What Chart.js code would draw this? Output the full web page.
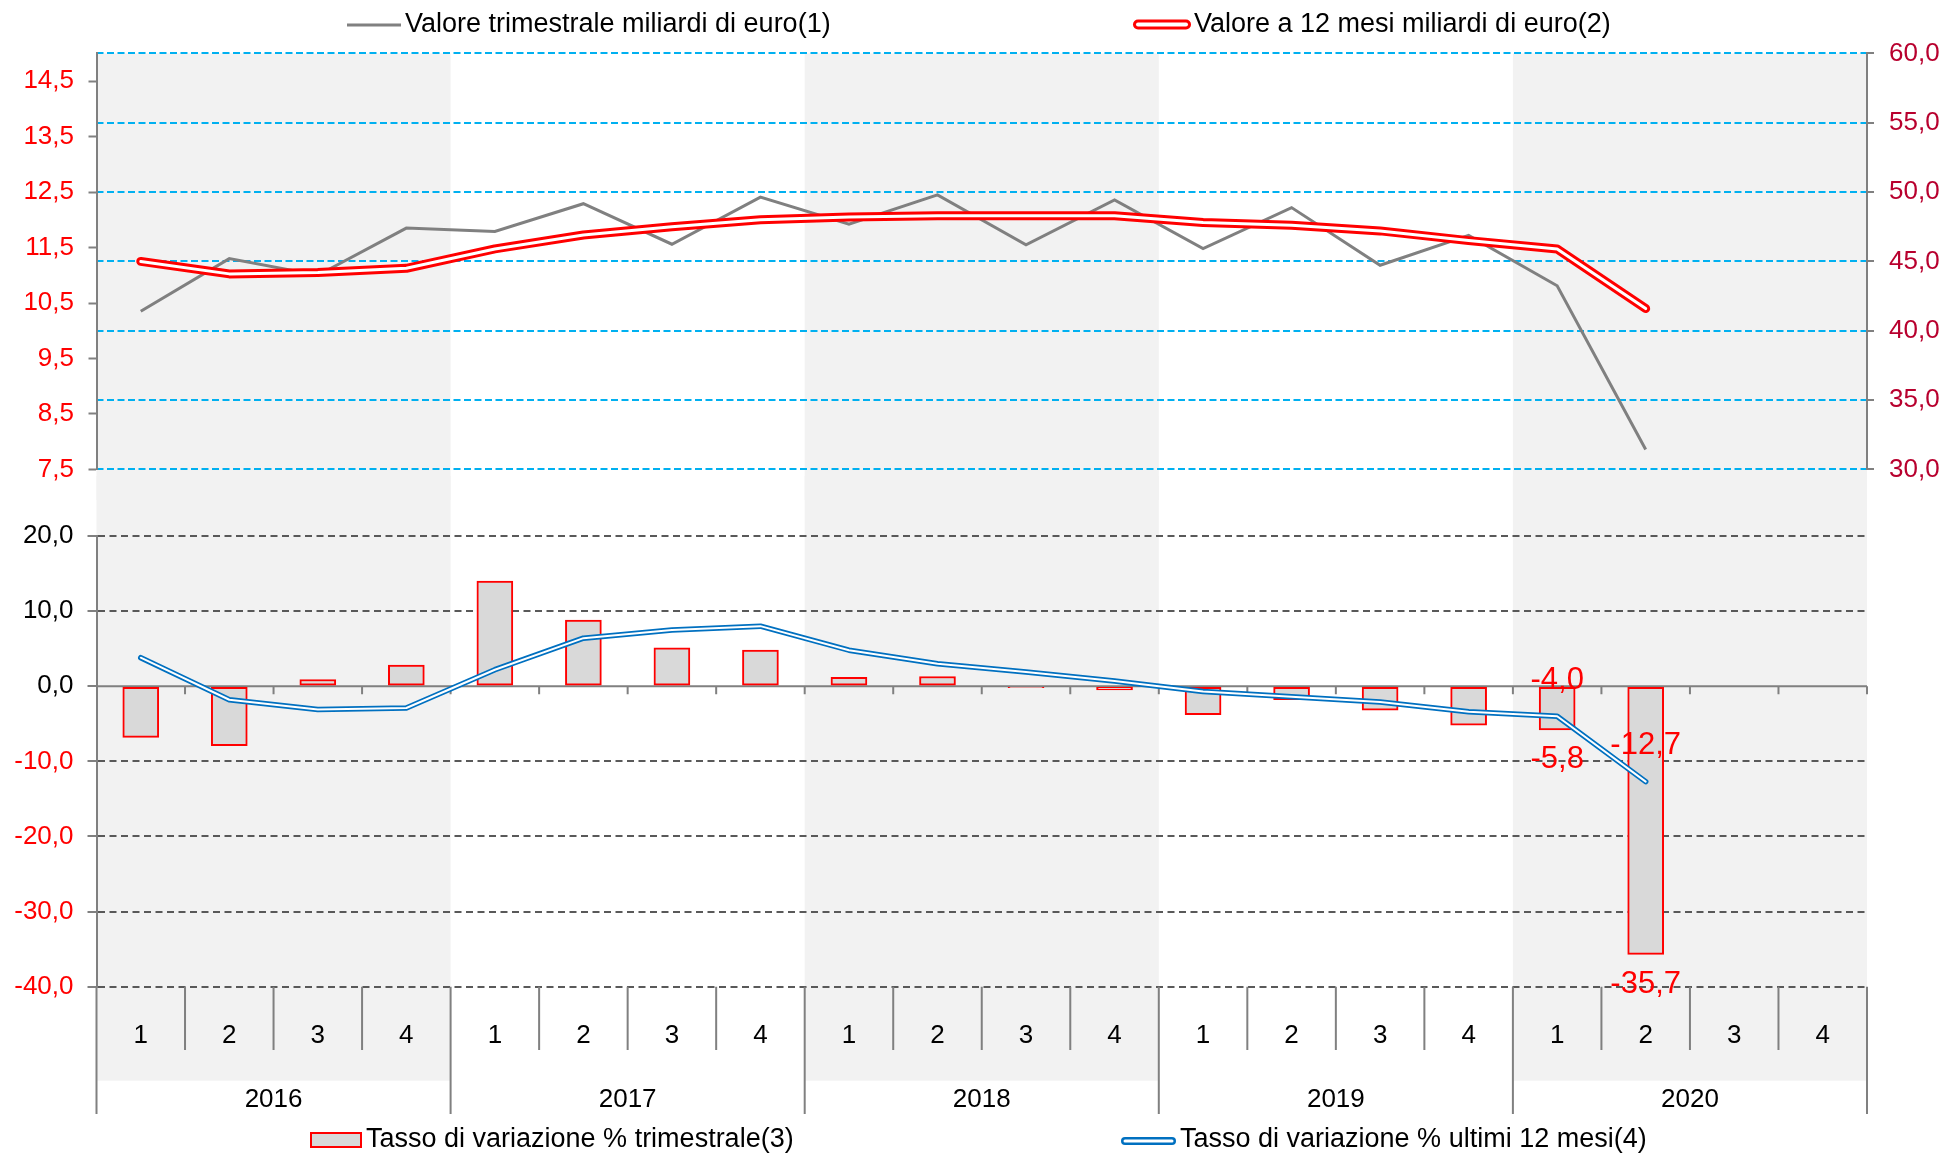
<!DOCTYPE html>
<html><head><meta charset="utf-8">
<script src="https://cdn.jsdelivr.net/npm/chart.js@4.4.0/dist/chart.umd.min.js"></script>
<style>
html,body{margin:0;padding:0;background:#fff;}
#wrap{position:relative;width:1946px;height:1155px;overflow:hidden;background:#fff;}
canvas{position:absolute;left:0;}
#top{top:0;}
#bot{top:476px;}
</style></head><body>
<div id="wrap"><canvas id="top" width="1946" height="500"></canvas><canvas id="bot" width="1946" height="679"></canvas></div>
<script>
// ---------------- DATA ----------------
const years = ['2016', '2017', '2018', '2019', '2020'];
const quarters = ['1', '2', '3', '4'];
const categories = years.flatMap(y => quarters.map(q => y + ' T' + q));

// top panel
const valoreTrimestrale = [10.35, 11.30, 11.00, 11.85, 11.79, 12.29, 11.56, 12.41, 11.92, 12.45, 11.55, 12.36, 11.48, 12.22, 11.18, 11.72, 10.81, 7.86, null, null];
const valore12Mesi = [45.0, 44.1, 44.2, 44.5, 45.9, 46.9, 47.5, 48.0, 48.2, 48.3, 48.3, 48.3, 47.8, 47.6, 47.2, 46.5, 45.9, 41.6, null, null];
// bottom panel
const tassoTrimestrale = [-6.8, -7.9, 0.9, 2.8, 14.0, 8.8, 5.1, 4.8, 1.2, 1.3, -0.2, -0.5, -3.8, -1.8, -3.2, -5.2, -5.8, -35.7, null, null];
const tasso12Mesi = [3.8, -1.8, -3.1, -2.9, 2.2, 6.4, 7.5, 8.0, 4.8, 3.0, 1.9, 0.7, -0.7, -1.4, -2.1, -3.4, -4.0, -12.7, null, null];

// tick labels
const leftTicksTop = [7.5, 8.5, 9.5, 10.5, 11.5, 12.5, 13.5, 14.5];
const rightTicksTop = [30, 35, 40, 45, 50, 55, 60];
const ticksBottom = [-40, -30, -20, -10, 0, 10, 20];
const labelledIndexes = [16, 17];

// ---------------- LAYOUT / STYLE ----------------
const FONT = "'Liberation Sans', Arial, sans-serif";
const PLOT_LEFT = 96.5, PLOT_RIGHT = 1867, W = 1946;
const BOT_OFFSET = 476;
Chart.defaults.font.family = FONT;
Chart.defaults.font.size = 26;
Chart.defaults.animation = false;

function fmt(v) { return Number(v).toFixed(1).replace('.', ','); }

function catWidth(x) { return x.getPixelForValue(1) - x.getPixelForValue(0); }

function makeBands(topFn, bottomFn) {
  return {
    id: 'bands',
    beforeDraw(chart) {
      const {ctx, scales: {x}} = chart;
      const cw = catWidth(x);
      const t = topFn(chart), b = bottomFn(chart);
      ctx.save();
      ctx.fillStyle = '#F2F2F2';
      years.forEach((yr, yi) => {
        if (yi % 2) return;
        const i0 = yi * quarters.length, i1 = i0 + quarters.length - 1;
        const xa = x.getPixelForValue(i0) - cw / 2, xb = x.getPixelForValue(i1) + cw / 2;
        ctx.fillRect(xa, t, xb - xa, b - t);
      });
      ctx.restore();
    }
  };
}

function strokeDouble(ctx, x1, x2, y, color, outer, inner) {
  ctx.lineCap = 'round';
  ctx.strokeStyle = color; ctx.lineWidth = outer;
  ctx.beginPath(); ctx.moveTo(x1, y); ctx.lineTo(x2, y); ctx.stroke();
  ctx.strokeStyle = '#FFFFFF'; ctx.lineWidth = inner;
  ctx.beginPath(); ctx.moveTo(x1, y); ctx.lineTo(x2, y); ctx.stroke();
}

const topLegend = {
  id: 'topLegend',
  afterDraw(chart) {
    const {ctx} = chart;
    const ds = chart.data.datasets;
    ctx.save();
    ctx.font = '27px ' + FONT; ctx.fillStyle = '#000'; ctx.textBaseline = 'middle'; ctx.textAlign = 'left';
    ctx.strokeStyle = '#808080'; ctx.lineWidth = 3; ctx.lineCap = 'butt';
    ctx.beginPath(); ctx.moveTo(347, 25); ctx.lineTo(401, 25); ctx.stroke();
    ctx.fillText(ds[0].label, 405, 25);
    strokeDouble(ctx, 1138, 1186, 24.5, '#FF0000', 10, 4);
    ctx.fillText(ds[1].label, 1194, 25);
    ctx.restore();
  }
};

const bottomLegend = {
  id: 'bottomLegend',
  afterDraw(chart) {
    const {ctx} = chart;
    const ds = chart.data.datasets;
    const yc = 1140 - BOT_OFFSET;
    ctx.save();
    ctx.font = '27px ' + FONT; ctx.fillStyle = '#000'; ctx.textBaseline = 'middle'; ctx.textAlign = 'left';
    ctx.fillStyle = '#D9D9D9'; ctx.fillRect(311, yc - 7, 50, 14);
    ctx.strokeStyle = '#FF0000'; ctx.lineWidth = 2; ctx.strokeRect(311, yc - 7, 50, 14);
    ctx.fillStyle = '#000';
    ctx.fillText(ds[0].label, 366, yc);
    strokeDouble(ctx, 1125, 1172, yc + 1, '#0070C0', 8, 3);
    ctx.fillText(ds[1].label, 1180, yc);
    ctx.restore();
  }
};

const catAxis = {
  id: 'catAxis',
  beforeDatasetsDraw(chart) {
    const {ctx, chartArea: a, scales: {x, y}} = chart;
    const cw = catWidth(x);
    const y0 = y.getPixelForValue(0);
    ctx.save();
    ctx.strokeStyle = '#808080'; ctx.lineWidth = 2;
    ctx.beginPath();
    ctx.moveTo(a.left, y0); ctx.lineTo(a.right, y0);
    for (let k = 0; k < categories.length; k++) {
      const xx = x.getPixelForValue(k) + cw / 2;
      ctx.moveTo(xx, y0); ctx.lineTo(xx, y0 + 8);
    }
    ctx.stroke();
    ctx.restore();
  },
  afterDraw(chart) {
    const {ctx, chartArea: a, scales: {x}} = chart;
    const cw = catWidth(x);
    ctx.save();
    ctx.strokeStyle = '#808080'; ctx.lineWidth = 2;
    ctx.beginPath();
    for (let k = 0; k <= categories.length; k++) {
      const xx = x.getPixelForValue(0) - cw / 2 + k * cw;
      const yEnd = (k % quarters.length === 0) ? 1114 - BOT_OFFSET : 1050 - BOT_OFFSET;
      ctx.moveTo(xx, a.bottom); ctx.lineTo(xx, yEnd);
    }
    ctx.stroke();
    ctx.font = '26px ' + FONT; ctx.fillStyle = '#000'; ctx.textAlign = 'center'; ctx.textBaseline = 'middle';
    years.forEach((yr, yi) => {
      const xc = (x.getPixelForValue(yi * 4) + x.getPixelForValue(yi * 4 + 3)) / 2;
      ctx.fillText(yr, xc, 1100 - BOT_OFFSET);
    });
    ctx.restore();
  }
};

const valueLabels = {
  id: 'valueLabels',
  afterDatasetsDraw(chart) {
    const {ctx} = chart;
    const barMeta = chart.getDatasetMeta(0), lineMeta = chart.getDatasetMeta(1);
    ctx.save();
    ctx.font = '31px ' + FONT; ctx.fillStyle = '#FF0000'; ctx.textAlign = 'center'; ctx.textBaseline = 'middle';
    labelledIndexes.forEach(i => {
      const b = barMeta.data[i];
      ctx.fillText(fmt(tassoTrimestrale[i]), b.x, b.y + 30);
      const p = lineMeta.data[i];
      ctx.fillText(fmt(tasso12Mesi[i]), p.x, p.y - 36);
    });
    ctx.restore();
  }
};

// ---------------- TOP CHART ----------------
new Chart(document.getElementById('top'), {
  type: 'line',
  data: {
    labels: categories,
    datasets: [
      { label: 'Valore trimestrale miliardi di euro(1)', data: valoreTrimestrale, yAxisID: 'yL',
        borderColor: '#808080', borderWidth: 3, pointRadius: 0, order: 3 },
      { label: 'Valore a 12 mesi miliardi di euro(2)', data: valore12Mesi, yAxisID: 'yR',
        borderColor: '#FF0000', borderWidth: 9, pointRadius: 0, borderCapStyle: 'round', borderJoinStyle: 'round', order: 2 },
      { label: 'core12', data: valore12Mesi, yAxisID: 'yR',
        borderColor: '#FFFFFF', borderWidth: 3, pointRadius: 0, borderCapStyle: 'round', borderJoinStyle: 'round', order: 1 }
    ]
  },
  options: {
    responsive: false, animation: false,
    layout: { padding: { top: 53.4, bottom: 24.5, left: 0, right: 0 } },
    plugins: { legend: { display: false }, tooltip: { enabled: false } },
    scales: {
      x: { type: 'category', offset: true, display: false },
      yL: {
        position: 'left', min: 7.5, max: 15,
        afterBuildTicks: s => { s.ticks = leftTicksTop.map(v => ({ value: v })); },
        afterFit: s => { s.width = PLOT_LEFT; },
        ticks: { color: '#FF0000', padding: 14.5, autoSkip: false, callback: v => fmt(v) },
        grid: { drawOnChartArea: false, drawTicks: true, tickLength: 8, tickColor: '#808080', tickWidth: 2, color: '#808080' },
        border: { display: true, color: '#808080', width: 2 }
      },
      yR: {
        position: 'right', min: 30, max: 60,
        afterBuildTicks: s => { s.ticks = rightTicksTop.map(v => ({ value: v })); },
        afterFit: s => { s.width = W - PLOT_RIGHT; },
        ticks: { color: '#B8002E', padding: 15, autoSkip: false, callback: v => fmt(v) },
        grid: { drawOnChartArea: true, color: '#00B0F0', lineWidth: 2, drawTicks: true, tickLength: 7,
                tickColor: '#808080', tickWidth: 2, tickBorderDash: [] },
        border: { display: true, color: '#808080', width: 2, dash: [7, 3.5] }
      }
    }
  },
  plugins: [makeBands(c => c.chartArea.top, c => c.height), topLegend]
});

// ---------------- BOTTOM CHART ----------------
new Chart(document.getElementById('bot'), {
  type: 'bar',
  data: {
    labels: categories,
    datasets: [
      { type: 'bar', label: 'Tasso di variazione % trimestrale(3)', data: tassoTrimestrale,
        backgroundColor: '#D9D9D9', borderColor: '#FF0000', borderWidth: 2, borderSkipped: false,
        barThickness: 36, order: 3 },
      { type: 'line', label: 'Tasso di variazione % ultimi 12 mesi(4)', data: tasso12Mesi,
        borderColor: '#0070C0', borderWidth: 5.5, pointRadius: 0, borderCapStyle: 'round', borderJoinStyle: 'round', order: 2 },
      { type: 'line', label: 'core', data: tasso12Mesi,
        borderColor: '#FFFFFF', borderWidth: 2, pointRadius: 0, borderCapStyle: 'round', borderJoinStyle: 'round', order: 1 }
    ]
  },
  options: {
    responsive: false, animation: false,
    layout: { padding: { top: 60, bottom: 0, left: 0, right: W - PLOT_RIGHT } },
    plugins: { legend: { display: false }, tooltip: { enabled: false } },
    scales: {
      x: {
        type: 'category', offset: true,
        grid: { display: false, drawTicks: false },
        border: { display: false },
        ticks: { color: '#000', padding: 34, maxRotation: 0, autoSkip: false,
                 callback: (v, i) => quarters[i % quarters.length] },
        afterFit: s => { s.height = 679 - 510.7; }
      },
      y: {
        position: 'left', min: -40, max: 20,
        afterBuildTicks: s => { s.ticks = ticksBottom.map(v => ({ value: v })); },
        afterFit: s => { s.width = PLOT_LEFT; },
        ticks: { color: c => (c.tick && c.tick.value < 0) ? '#FF0000' : '#000000', padding: 14, autoSkip: false, callback: v => fmt(v) },
        grid: { color: c => (c.tick && c.tick.value === 0) ? 'rgba(0,0,0,0)' : '#595959', lineWidth: 2,
                drawTicks: true, tickLength: 9, tickColor: '#808080', tickWidth: 2, tickBorderDash: [] },
        border: { display: true, color: '#808080', width: 2, dash: [7, 4.5] }
      }
    }
  },
  plugins: [makeBands(() => 0, () => 1080.7 - BOT_OFFSET), catAxis, valueLabels, bottomLegend]
});
</script>
</body></html>
